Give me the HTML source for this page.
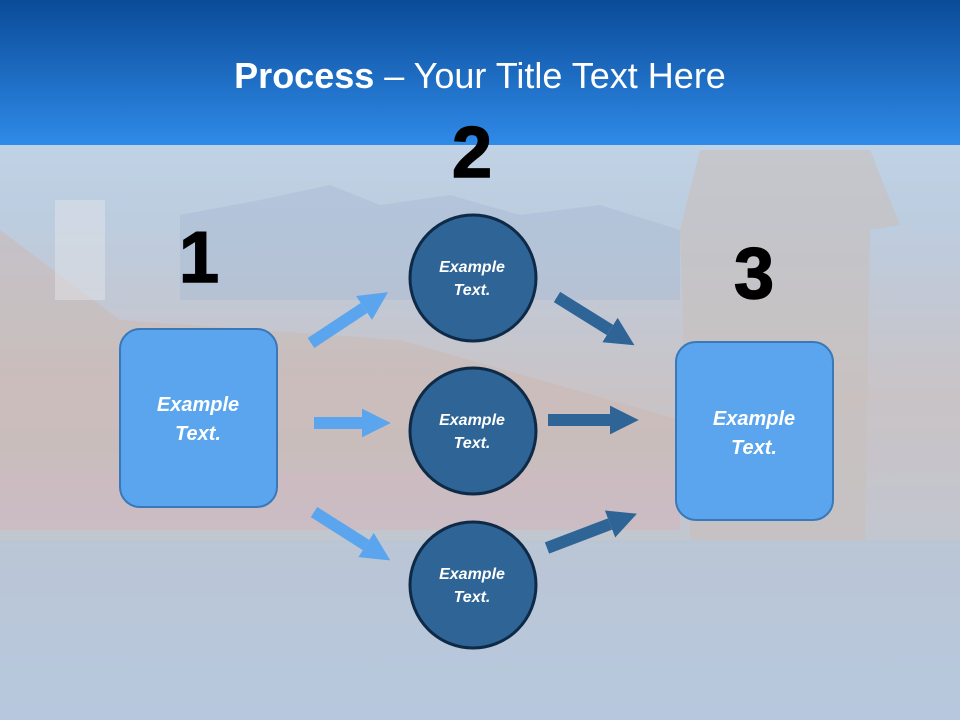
<!DOCTYPE html>
<html><head><meta charset="utf-8"><style>
body{margin:0;width:960px;height:720px;overflow:hidden;font-family:"Liberation Sans",sans-serif}
</style></head><body>
<svg width="960" height="720" viewBox="0 0 960 720" xmlns="http://www.w3.org/2000/svg">
<defs>
<linearGradient id="hd" x1="0" y1="0" x2="0" y2="1"><stop offset="0" stop-color="#0a4b98"/><stop offset="1" stop-color="#2f8ae8"/></linearGradient>
<linearGradient id="bg" x1="0" y1="0" x2="0" y2="1"><stop offset="0" stop-color="#cadcf0"/><stop offset="0.3" stop-color="#bccde0"/><stop offset="0.55" stop-color="#c9c3c6"/><stop offset="0.75" stop-color="#c2c6cf"/><stop offset="1" stop-color="#b9cbe0"/></linearGradient>
<marker id="m" viewBox="0 0 10 10" refX="0" refY="5" markerWidth="2.4" markerHeight="2.4" orient="auto"><path d="M0,0L10,5L0,10z" fill="context-stroke"/></marker>
</defs>
<rect width="960" height="720" fill="url(#bg)"/>
<path d="M180,215 L260,200 L330,185 L380,205 L450,195 L520,215 L600,205 L680,230 L680,300 L180,300z" fill="#a9bcd3" opacity="0.5"/>
<path d="M0,230 L120,320 L400,340 L680,420 L680,470 L0,470z" fill="#cdb5ad" opacity="0.45"/>
<rect x="0" y="470" width="680" height="60" fill="#d7b0b4" opacity="0.4"/>
<path d="M680,230 L700,150 L870,150 L900,225 L870,230 L865,540 L690,540z" fill="#c8bfbc" opacity="0.6"/>
<rect x="0" y="540" width="960" height="180" fill="#b4c6dc" opacity="0.5"/>
<rect x="55" y="200" width="50" height="100" fill="#e2e3e8" opacity="0.5"/>
<rect x="0" y="0" width="960" height="145" fill="url(#hd)"/>
<text x="480" y="88" text-anchor="middle" fill="#fff" font-size="36"><tspan font-weight="bold">Process</tspan> – Your Title Text Here</text>
<g font-weight="bold" font-size="72" text-anchor="middle" fill="#000" stroke="#000" stroke-width="1.5">
<text x="199" y="282">1</text><text x="472" y="177">2</text><text x="754" y="298">3</text></g>
<g stroke="#5aa5ee" stroke-width="12" marker-end="url(#m)" fill="none">
<line x1="311" y1="343" x2="364" y2="308"/>
<line x1="314" y1="423" x2="362" y2="423"/>
<line x1="314" y1="512" x2="366" y2="545"/>
</g>
<g stroke="#2e6496" stroke-width="12" marker-end="url(#m)" fill="none">
<line x1="557" y1="297" x2="610" y2="330"/>
<line x1="548" y1="420" x2="610" y2="420"/>
<line x1="547" y1="548" x2="610" y2="524"/>
</g>
<rect x="120" y="329" width="157" height="178" rx="20" fill="#5aa5ee" stroke="#3a78b8" stroke-width="2"/>
<rect x="676" y="342" width="157" height="178" rx="20" fill="#5aa5ee" stroke="#3a78b8" stroke-width="2"/>
<g fill="#2e6496" stroke="#0e2a46" stroke-width="3">
<circle cx="473" cy="278" r="63"/><circle cx="473" cy="431" r="63"/><circle cx="473" cy="585" r="63"/></g>
<g fill="#fff" font-weight="bold" font-style="italic" text-anchor="middle">
<g font-size="20"><text x="198" y="411">Example</text><text x="198" y="440">Text.</text>
<text x="754" y="425">Example</text><text x="754" y="454">Text.</text></g>
<g font-size="16"><text x="472" y="272">Example</text><text x="472" y="295">Text.</text>
<text x="472" y="425">Example</text><text x="472" y="448">Text.</text>
<text x="472" y="579">Example</text><text x="472" y="602">Text.</text></g>
</g>
</svg>
</body></html>
